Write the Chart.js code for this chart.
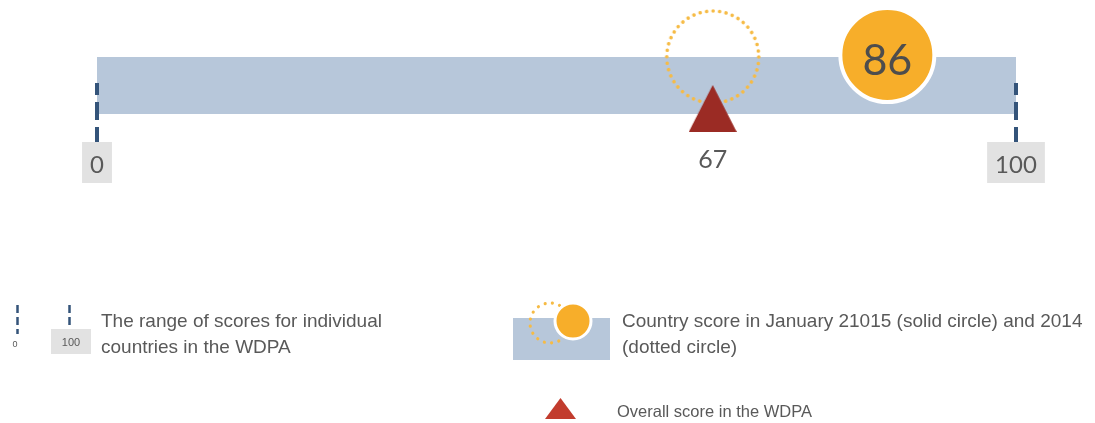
<!DOCTYPE html>
<html>
<head>
<meta charset="utf-8">
<script src="https://cdn.jsdelivr.net/npm/chart.js@4/dist/chart.umd.min.js"></script>
<style>
  html, body { margin: 0; padding: 0; background: #ffffff; }
  #wrap { position: relative; width: 1095px; height: 423px; }
</style>
</head>
<body>
<div id="wrap"><canvas id="chart"></canvas></div>
<script>
// ---------------- DATA ----------------
const rangeValues = [0, 100];          // range of scores for individual countries
const rangeLabels = ['0', '100'];
const score2015 = [86];                // country score, January 2015 (solid circle)
const score2014 = [67];                // country score, 2014 (dotted circle)
const overallScore = [67];             // overall score in the WDPA (triangle)
const overallLabels = ['67'];
const legendTexts = [
  ['The range of scores for individual', 'countries in the WDPA'],
  ['Country score in January 21015 (solid circle) and 2014', '(dotted circle)'],
  ['Overall score in the WDPA']
];

// ---------------- LAYOUT / STYLE ----------------
const ROW = { barTop: 57, barBottom: 114, dashTop: 83, dashBottom: 143,
              solid: 55, dotted: 57, triangle: 108.5 };
const COLORS = { bar: '#b7c7da', orange: '#f7ae2a', dotted: '#f6bb45',
                 dash: '#34547a', triangle: '#9b2b24', legendTriangle: '#c23c2e',
                 box: '#e2e2e2', text: '#595959' };
const NUM_FONT = 'Lato, "Open Sans", sans-serif';
const TXT_FONT = '"Liberation Sans", Arial, sans-serif';

function triangleCanvas(w, h, color) {
  const c = document.createElement('canvas');
  c.width = w; c.height = h;
  const g = c.getContext('2d');
  g.fillStyle = color;
  g.beginPath(); g.moveTo(0, h); g.lineTo(w / 2, 0); g.lineTo(w, h); g.closePath(); g.fill();
  return c;
}
function dottedCircleCanvas(r, color) {
  const s = Math.ceil(2 * (r + 3));
  const c = document.createElement('canvas');
  c.width = s; c.height = s;
  const g = c.getContext('2d');
  g.strokeStyle = color; g.lineWidth = 3.6; g.lineCap = 'round';
  const n = 44, circ = 2 * Math.PI * r;
  g.setLineDash([0.01, circ / n - 0.01]);
  g.beginPath(); g.arc(s / 2, s / 2, r, 0, Math.PI * 2); g.stroke();
  return c;
}
function drawDottedArc(ctx, cx, cy, r, n) {
  ctx.save();
  ctx.strokeStyle = COLORS.dotted; ctx.lineWidth = 3.2; ctx.lineCap = 'round';
  ctx.setLineDash([0.01, 2 * Math.PI * r / n - 0.01]);
  ctx.beginPath(); ctx.arc(cx, cy, r, 0, Math.PI * 2); ctx.stroke();
  ctx.restore();
}

const labelPlugin = {
  id: 'labels',
  afterDraw(chart) {
    const { ctx, scales: { x, y } } = chart;
    ctx.save();
    // Range tick labels with grey boxes
    ctx.font = '24px ' + NUM_FONT;
    ctx.textAlign = 'center';
    ctx.textBaseline = 'alphabetic';
    rangeValues.forEach((v, i) => {
      const px = x.getPixelForValue(v);
      const w = ctx.measureText(rangeLabels[i]).width + 16;
      const top = y.getPixelForValue(ROW.dashBottom - 1);
      ctx.fillStyle = COLORS.box;
      ctx.fillRect(px - w / 2, top, w, 41);
      ctx.fillStyle = COLORS.text;
      ctx.fillText(rangeLabels[i], px, top + 31);
    });
    // Overall score label
    ctx.font = '25px ' + NUM_FONT;
    ctx.fillStyle = COLORS.text;
    overallScore.forEach((v, i) => {
      ctx.fillText(overallLabels[i], x.getPixelForValue(v), y.getPixelForValue(168));
    });
    // 2015 score inside circle
    ctx.font = '43px ' + NUM_FONT;
    ctx.fillStyle = '#4d4d4d';
    score2015.forEach(v => {
      ctx.fillText(String(v), x.getPixelForValue(v), y.getPixelForValue(75));
    });

    // ---------------- Legend ----------------
    // item 1: dashed range markers
    ctx.strokeStyle = COLORS.dash; ctx.lineWidth = 2.5; ctx.setLineDash([8, 4]);
    ctx.beginPath(); ctx.moveTo(17.5, 305); ctx.lineTo(17.5, 334); ctx.stroke();
    ctx.beginPath(); ctx.moveTo(69.5, 305); ctx.lineTo(69.5, 329); ctx.stroke();
    ctx.setLineDash([]);
    ctx.fillStyle = COLORS.box; ctx.fillRect(51, 329, 40, 25);
    ctx.fillStyle = COLORS.text; ctx.textAlign = 'center';
    ctx.font = '9px ' + TXT_FONT; ctx.fillText('0', 15, 347);
    ctx.font = '11px ' + TXT_FONT; ctx.fillText('100', 71, 346);
    ctx.textAlign = 'left';
    ctx.font = '19px ' + TXT_FONT;
    ctx.fillText(legendTexts[0][0], 101, 327);
    ctx.fillText(legendTexts[0][1], 101, 353);
    // item 2: bar with circles
    ctx.fillStyle = COLORS.bar; ctx.fillRect(513, 318, 97, 42);
    drawDottedArc(ctx, 550, 323, 20, 17);
    ctx.beginPath(); ctx.arc(573, 321, 18, 0, Math.PI * 2);
    ctx.fillStyle = COLORS.orange; ctx.fill();
    ctx.lineWidth = 3; ctx.strokeStyle = '#ffffff'; ctx.stroke();
    ctx.fillStyle = COLORS.text;
    ctx.font = '19px ' + TXT_FONT;
    ctx.fillText(legendTexts[1][0], 622, 327);
    ctx.fillText(legendTexts[1][1], 622, 353);
    // item 3: triangle
    ctx.fillStyle = COLORS.legendTriangle;
    ctx.beginPath(); ctx.moveTo(545, 419); ctx.lineTo(560.5, 398); ctx.lineTo(576, 419); ctx.closePath(); ctx.fill();
    ctx.fillStyle = COLORS.text;
    ctx.font = '16.5px ' + TXT_FONT;
    ctx.fillText(legendTexts[2][0], 617, 417);
    ctx.restore();
  }
};

const datasets = [
  { // 2015 solid circle (top)
    type: 'scatter', label: '2015',
    data: score2015.map(v => ({ x: v, y: ROW.solid })),
    pointRadius: 47, pointBackgroundColor: COLORS.orange,
    pointBorderColor: '#ffffff', pointBorderWidth: 4, clip: false
  },
  { // overall score triangle
    type: 'scatter', label: 'Overall',
    data: overallScore.map(v => ({ x: v, y: ROW.triangle })),
    pointStyle: triangleCanvas(48, 47, COLORS.triangle), clip: false
  },
  { // 2014 dotted circle
    type: 'scatter', label: '2014',
    data: score2014.map(v => ({ x: v, y: ROW.dotted })),
    pointStyle: dottedCircleCanvas(46, COLORS.dotted), clip: false
  },
  ...rangeValues.map(v => ({ // range end markers (dashed)
    type: 'line', label: 'range ' + v, showLine: true,
    data: [{ x: v, y: ROW.dashTop }, { x: v, y: ROW.dashBottom }],
    borderColor: COLORS.dash, borderWidth: 4, borderDash: [12, 7, 18, 7, 15, 7],
    pointRadius: 0, fill: false, clip: false
  })),
  { // range bar
    type: 'line', label: 'range', showLine: true,
    data: [{ x: rangeValues[0], y: ROW.barTop }, { x: rangeValues[1], y: ROW.barTop }],
    borderWidth: 0, borderColor: 'rgba(0,0,0,0)', pointRadius: 0,
    backgroundColor: COLORS.bar, fill: { value: ROW.barBottom }, clip: false
  }
];

new Chart(document.getElementById('chart'), {
  type: 'scatter',
  data: { datasets },
  options: {
    responsive: true, maintainAspectRatio: false,
    animation: false, events: [],
    layout: { autoPadding: false, padding: { left: 97, right: 79, top: 0, bottom: 0 } },
    plugins: { legend: { display: false }, tooltip: { enabled: false } },
    scales: {
      x: { type: 'linear', min: 0, max: 100, display: false },
      y: { type: 'linear', min: 0, max: 423, reverse: true, display: false }
    }
  },
  plugins: [labelPlugin]
});
</script>
</body>
</html>
